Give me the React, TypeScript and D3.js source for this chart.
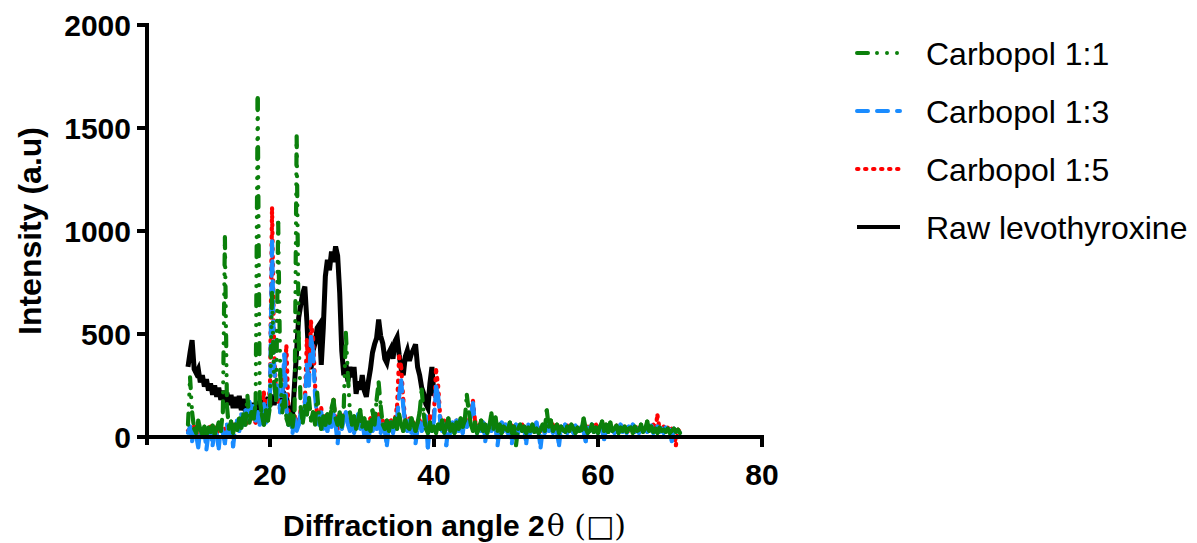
import React from "react";
import * as d3 from "d3";

const W = 1197;
const H = 543;

// Scan grid: 2θ from 10° in 0.25° steps
const SCAN_START = 10;
const SCAN_STEP = 0.25;

// Raw levothyroxine, 10°–40°
const rawLevothyroxine = [
  340, 410, 470, 330,
  310, 330, 265, 300,
  245, 280, 225, 260,
  205, 250, 195, 240,
  180, 225, 165, 215,
  155, 205, 140, 195,
  140, 200, 130, 185,
  125, 175, 115, 165,
  110, 160, 120, 175,
  130, 185, 140, 195,
  150, 205, 155, 210,
  165, 215, 170, 210,
  195, 140, 110, 100,
  260, 420, 580, 640,
  700, 730, 560, 360,
  330, 420, 455, 530,
  545, 350, 530, 780,
  860, 810, 900, 850,
  925, 880, 700, 420,
  300, 360, 270, 340,
  290, 340, 210, 270,
  230, 300, 225, 195,
  270, 330, 410, 450,
  480, 570, 490, 455,
  380, 360, 410, 430,
  380, 465, 485, 400,
  330, 300, 390, 420,
  370, 405, 425, 450,
  340, 300, 240, 210,
  160, 140, 260, 340,
  200,
];

// Carbopol 1:1, 10°–70°
const carbopol11 = [
  60, 290, 120, 40,
  20, 80, 35, 15,
  50, 10, 45, 25,
  55, 15, 40, 70,
  30, 120, 970, 150,
  40, 75, 20, 60,
  35, 90, 45, 110,
  60, 200, 70, 120,
  90, 160, 1645, 180,
  110, 60, 130, 80,
  150, 700, 260, 180,
  1040, 300, 120, 200,
  90, 60, 110, 50,
  130, 1460, 480, 140,
  70, 150, 110, 190,
  80, 120, 60, 215,
  90, 40, 100, 60,
  110, 70, 140, 180,
  90, 60, 120, 50,
  150, 505, 300, 120,
  60, 100, 40, 80,
  130, 50, 90, 40,
  70, 30, 130, 60,
  180, 265, 150, 60,
  40, 80, 30, 70,
  50, 90, 40, 110,
  60, 30, 80, 50,
  40, 90, 60, 30,
  70, 120, 230, 110,
  40, 20, 70, 30,
  50, 20, 60, 40,
  80, 20, 50, 90,
  30, 60, 20, 70,
  40, 90, 50, 80,
  205, 120, 60, 30,
  70, 20, 40, 80,
  30, 60, 20, 50,
  115, 40, 95, 30,
  60, 20, 50, 40,
  30, 70, 20, 50,
  -40, 40, 60, 30,
  50, 20, 45, 30,
  60, 25, 40, 20,
  35, 60, 30, 130,
  50, 80, 30, 45,
  60, 20, 50, 35,
  25, 50, 30, 60,
  40, 20, 45, 30,
  35, 90, 40, 20,
  30, 60, 25, 45,
  20, 50, 75, 30,
  60, 25, 70, 30,
  40, 55, 20, 45,
  30, 50, 25, 40,
  45, 20, 50, 30,
  35, 60, 25, 40,
  75, 30, 50, 25,
  40, 20, 45, 30,
  35, 25, 40, 20,
  30, 40, 25, 35,
  20,
];

// Carbopol 1:3, 10°–70°
const carbopol13 = [
  20, 50, -20, 30,
  10, -50, 40, 0,
  30, -60, 20, 40,
  -40, 30, 10, -55,
  50, 20, -30, 60,
  10, 70, -45, 40,
  80, 30, 110, 60,
  130, 90, 170, 110,
  150, 80, 120, 60,
  100, 160, 70, 130,
  200, 950, 350, 180,
  250, 120, 200, 400,
  140, 60, 100, 20,
  90, 30, 60, 120,
  80, 150, 350, 250,
  485, 420, 200, 90,
  60, 120, 40, 80,
  30, 90, 50, 110,
  60, -30, 70, 40,
  80, 120, 60, 30,
  90, 20, 60, 110,
  40, 70, 10, 50,
  -20, 60, 30, 80,
  40, 90, 20, 60,
  30, -40, 50, 70,
  20, 60, 90, 200,
  275, 150, 60, 30,
  80, 20, 50, -30,
  40, 70, 30, 60,
  100, -50, 60, 30,
  80, 245, 200, 80,
  30, 60, -40, 50,
  20, 70, 40, 80,
  30, 60, 20, 90,
  50, 70, 100, 165,
  60, 20, 50, 30,
  70, -20, 40, 60,
  30, 80, 50, -40,
  40, 70, 30, 60,
  20, 50, -30, 40,
  60, 20, 50, 30,
  40, -30, 60, 20,
  50, 30, 70, 25,
  -50, 40, 20, 60,
  30, 50, 20, 45,
  25, -40, 50, 30,
  60, 20, 45, 35,
  20, 55, 30, 40,
  50, 25, -20, 45,
  30, 60, 25, 40,
  20, 45, 30, -10,
  40, 25, 55, 30,
  20, 45, 30, 60,
  25, 40, 20, 50,
  35, 60, 25, 40,
  20, 50, 30, 45,
  25, 40, 55, 20,
  35, 50, 25, 40,
  20, 45, 30, 35,
  -20, 40, 25, 30,
  20,
];

// Carbopol 1:5, 10°–70°
const carbopol15 = [
  30, 40, 10, 50,
  20, 45, 15, 35,
  40, 20, 30, 50,
  25, 45, 20, 35,
  50, 30, 40, 20,
  45, 30, 60, 40,
  70, 50, 90, 60,
  100, 70, 120, 90,
  110, 70, 100, 80,
  150, 215, 130, 170,
  230, 1110, 420, 200,
  180, 130, 160, 300,
  440, 120, 80, 60,
  100, 50, 80, 130,
  90, 170, 470, 300,
  560, 480, 250, 100,
  80, 140, 60, 100,
  50, 90, 110, 180,
  70, 40, 90, 60,
  105, 90, 70, 40,
  80, 50, 70, 100,
  60, 80, 40, 70,
  50, 90, 60, 100,
  60, 110, 50, 80,
  40, 70, 60, 80,
  50, 90, 150, 390,
  340, 180, 80, 60,
  90, 40, 70, 50,
  60, 80, 50, 70,
  90, 40, 100, 60,
  120, 325, 250, 100,
  50, 80, 40, 70,
  30, 60, 50, 80,
  40, 70, 50, 90,
  60, 80, 110, 175,
  80, 40, 60, 50,
  70, 30, 50, 40,
  60, 45, 70, 30,
  50, 40, 60, 35,
  45, 30, 55, 40,
  30, 50, 40, 60,
  35, 45, 30, 50,
  40, 60, 35, 45,
  30, 50, 40, 55,
  45, 35, 60, 40,
  30, 50, 40, 45,
  35, 55, 30, 45,
  50, 30, 45, 35,
  40, 55, 30, 50,
  35, 45, 40, 60,
  30, 50, 70, 35,
  45, 30, 50, 40,
  35, 55, 40, 45,
  50, 35, 45, 30,
  40, 55, 35, 45,
  30, 50, 40, 45,
  35, 50, 40, 60,
  45, 105, 40, 35,
  50, 30, 45, 35,
  40, 30, -40, 35,
  25,
];

const xTicks = [20, 40, 60, 80];
const yTicks = [0, 500, 1000, 1500, 2000];

type Series = {
  name: string;
  values: number[];
  color: string;
  dash: string | null;
};

const raw: Series = { name: "Raw levothyroxine", values: rawLevothyroxine, color: "#000000", dash: null };
const c11: Series = { name: "Carbopol 1:1", values: carbopol11, color: "#0b800b", dash: "11 9 0 10 0 10 0 9" };
const c13: Series = { name: "Carbopol 1:3", values: carbopol13, color: "#1a8cff", dash: "11 9" };
const c15: Series = { name: "Carbopol 1:5", values: carbopol15, color: "#ff0000", dash: "1.5 6.5" };

// bottom-to-top drawing order
const drawOrder = [raw, c15, c13, c11];
const legendOrder = [c11, c13, c15, raw];

const SANS = "'Liberation Sans', Arial, Helvetica, sans-serif";
const SERIF = "'DejaVu Serif', 'Liberation Serif', serif";

const x = d3.scaleLinear().domain([5, 80]).range([147, 762]);
const y = d3.scaleLinear().domain([0, 2000]).range([437, 25]);

const toPoints = (vals: number[]): [number, number][] =>
  vals.map((v, i) => [SCAN_START + i * SCAN_STEP, v]);

const line = d3
  .line<[number, number]>()
  .x((d) => x(d[0]))
  .y((d) => y(d[1]));

function SeriesMarks({ s }: { s: Series }) {
  const pts = toPoints(s.values);
  if (!s.dash) {
    return (
      <path
        d={line(pts) || ""}
        fill="none"
        stroke={s.color}
        strokeWidth={5}
        strokeLinejoin="miter"
        strokeMiterlimit={4}
      />
    );
  }
  // dash pattern restarts on every segment between scan points
  const segs = d3.pairs(pts);
  return (
    <g>
      {segs.map((pair, i) => (
        <path
          key={i}
          d={line(pair) || ""}
          fill="none"
          stroke={s.color}
          strokeWidth={4.2}
          strokeDasharray={s.dash || undefined}
          strokeLinecap="round"
        />
      ))}
    </g>
  );
}

export default function App() {
  const axisW = 4;
  const tickLen = 10;
  return (
    <svg
      width={W}
      height={H}
      viewBox={`0 0 ${W} ${H}`}
      style={{ position: "absolute", left: 0, top: 0, background: "#fff" }}
    >
      <rect x={0} y={0} width={W} height={H} fill="#fff" />

      {/* data */}
      {drawOrder.map((s) => (
        <SeriesMarks key={s.name} s={s} />
      ))}

      {/* y axis */}
      <line x1={x(5)} x2={x(5)} y1={y(2000) - axisW / 2} y2={y(0) + 8} stroke="#000" strokeWidth={axisW} />
      {yTicks.map((t) => (
        <g key={t}>
          <line x1={x(5) - tickLen} x2={x(5)} y1={y(t)} y2={y(t)} stroke="#000" strokeWidth={axisW} />
          <text
            x={x(5) - 16}
            y={y(t)}
            dy="0.36em"
            textAnchor="end"
            fontFamily={SANS}
            fontWeight="bold"
            fontSize={30}
            fill="#000"
          >
            {t}
          </text>
        </g>
      ))}

      {/* x axis */}
      <line x1={x(5) - axisW / 2} x2={x(80) + axisW / 2} y1={y(0)} y2={y(0)} stroke="#000" strokeWidth={axisW} />
      {xTicks.map((t) => (
        <g key={t}>
          <line x1={x(t)} x2={x(t)} y1={y(0)} y2={y(0) + tickLen} stroke="#000" strokeWidth={axisW} />
          <text
            x={x(t)}
            y={y(0) + 48}
            textAnchor="middle"
            fontFamily={SANS}
            fontWeight="bold"
            fontSize={30}
            fill="#000"
          >
            {t}
          </text>
        </g>
      ))}

      {/* axis titles */}
      <text
        transform={`translate(41, ${y(1000)}) rotate(-90)`}
        textAnchor="middle"
        fontFamily={SANS}
        fontWeight="bold"
        fontSize={32}
        fill="#000"
      >
        Intensity (a.u)
      </text>
      <text x={283} y={536} fontFamily={SANS} fontWeight="bold" fontSize={30} fill="#000">
        Diffraction angle 2
        <tspan fontFamily={SERIF} fontWeight="normal" fontSize={30} dx={2}>θ (□)</tspan>
      </text>

      {/* legend */}
      {legendOrder.map((s, i) => {
        const ly = 53 + i * 58;
        return (
          <g key={s.name}>
            <line
              x1={857}
              x2={900}
              y1={ly}
              y2={ly}
              stroke={s.color}
              strokeWidth={4}
              strokeDasharray={s.dash || undefined}
              strokeLinecap={s.dash ? "round" : "butt"}
            />
            <text x={926} y={ly} dy="0.36em" fontFamily={SANS} fontSize={32} fill="#000">
              {s.name}
            </text>
          </g>
        );
      })}
    </svg>
  );
}
